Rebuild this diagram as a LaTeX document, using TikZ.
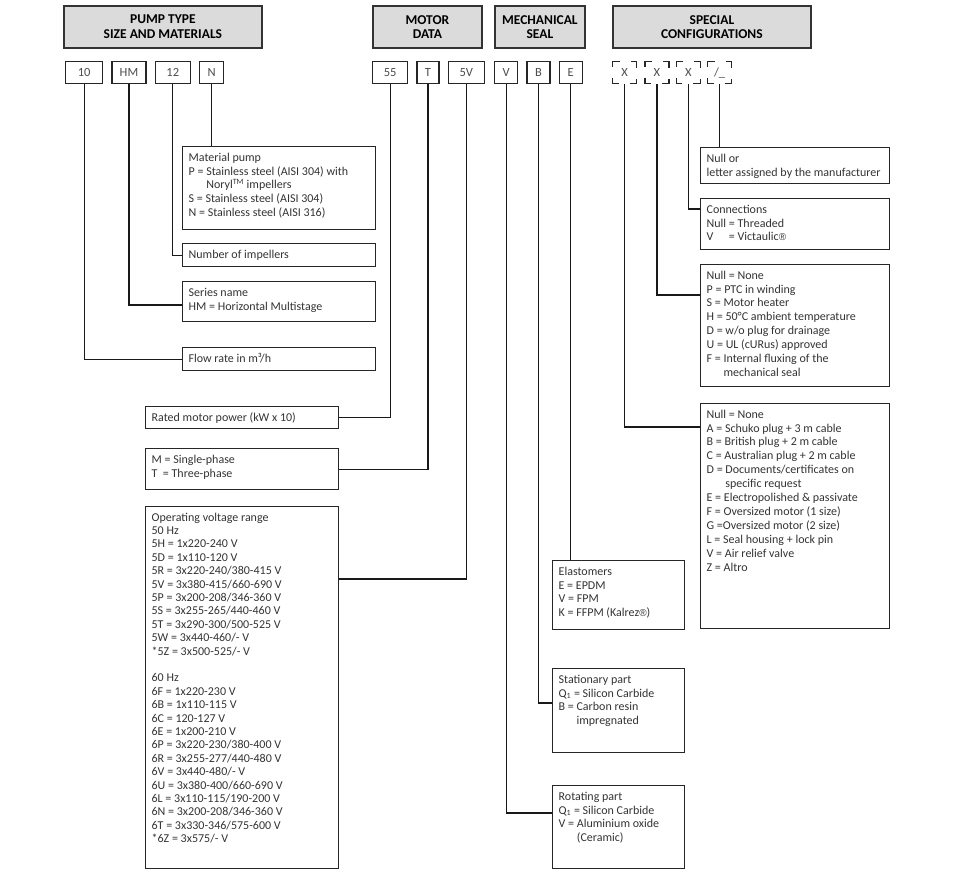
\documentclass[tikz,border=0pt]{standalone}
\usepackage{fontspec}
\setmainfont{Carlito}
\newfontfamily\regfont{Liberation Sans}
\usetikzlibrary{positioning}

\tikzstyle{title} = [rectangle, draw=black!80, line width=1.8pt, fill=black!14, font=\bfseries\fontsize{13.5}{14.5}\selectfont, align=center, anchor=north west, minimum height=42pt, inner sep=0pt]
\tikzstyle{code} = [rectangle, draw=black!85, line width=1.3pt, minimum height=22pt, inner sep=0pt, anchor=north west, text=black!70, font=\fontsize{12.5}{13}\selectfont]
\tikzstyle{free} = [code, minimum width=24pt, dash pattern=on 12pt off 11pt, dash phase=6pt]
\tikzstyle{info} = [rectangle, draw=black!85, line width=1.3pt, anchor=north west, inner xsep=6pt, inner ysep=0pt, text=black!80, font=\fontsize{12}{13.9}\selectfont]
\tikzstyle{link} = [draw=black!90, line width=1.3pt]

\newcommand{\infobox}[3]{\makebox[#1pt][l]{\parbox[t][#2pt][t]{300pt}{\raggedright\rule{0pt}{14.5pt}#3}}}
\newcommand{\regmark}{{\regfont\fontsize{10}{12}\selectfont ®}}

\begin{document}
\begin{tikzpicture}[x=1pt, y=-1pt]
\useasboundingbox (0,0) rectangle (960,872);

\node [title, minimum width=198pt] (hpump) at (63,5) {PUMP TYPE\\SIZE AND MATERIALS};
\node [title, minimum width=109pt] (hmotor) at (372,5) {MOTOR\\DATA};
\node [title, minimum width=90pt] (hseal) at (494,5) {MECHANICAL\\SEAL};
\node [title, minimum width=198pt] (hspec) at (612,5) {SPECIAL\\CONFIGURATIONS};

\node [code, minimum width=37pt] (c10) at (65,61) {10};
\node [code, minimum width=34pt] (cHM) [right=8pt of c10] {HM};
\node [code, minimum width=35pt] (c12) [right=8pt of cHM] {12};
\node [code, minimum width=24pt] (cN) [right=8pt of c12] {N};
\node [code, minimum width=35pt] (c55) at (372,61) {55};
\node [code, minimum width=22pt] (cT) [right=8pt of c55] {T};
\node [code, minimum width=36pt] (c5V) [right=8pt of cT] {5V};
\node [code, minimum width=23pt] (cV) at (494,61) {V};
\node [code, minimum width=23pt] (cB) [right=8pt of cV] {B};
\node [code, minimum width=23pt] (cE) [right=8pt of cB] {E};
\node [free] (cX1) at (612,61) {X};
\node [free] (cX2) [right=7pt of cX1] {X};
\node [free] (cX3) [right=6pt of cX2] {X};
\node [free] (cS) [right=6pt of cX3] {/\_};

\node [info] (mat) at (182,146) {\infobox{181}{83}{Material pump\\P = Stainless steel (AISI 304) with\\\phantom{P = }Noryl\textsuperscript{TM} impellers\\S = Stainless steel (AISI 304)\\N = Stainless steel (AISI 316)}};
\node [info] (imp) at (182,243) {\infobox{181}{23}{Number of impellers}};
\node [info] (ser) at (182,281) {\infobox{181}{40}{Series name\\HM = Horizontal Multistage}};
\node [info] (flow) at (182,347) {\infobox{181}{23}{Flow rate in m³/h}};

\node [info] (pow) at (145,406) {\infobox{181}{22}{Rated motor power (kW x 10)}};
\node [info] (phase) at (145,448) {\infobox{181}{41}{M = Single-phase\\T \ = Three-phase}};
\node [info, font=\fontsize{12}{13.4}\selectfont] (volt) at (145,506) {\infobox{181}{362}{Operating voltage range\\50 Hz\\5H = 1x220-240 V\\5D = 1x110-120 V\\5R = 3x220-240/380-415 V\\5V = 3x380-415/660-690 V\\5P = 3x200-208/346-360 V\\5S = 3x255-265/440-460 V\\5T = 3x290-300/500-525 V\\5W = 3x440-460/- V\\{*}5Z = 3x500-525/- V\\[13.4pt]60 Hz\\6F = 1x220-230 V\\6B = 1x110-115 V\\6C = 120-127 V\\6E = 1x200-210 V\\6P = 3x220-230/380-400 V\\6R = 3x255-277/440-480 V\\6V = 3x440-480/- V\\6U = 3x380-400/660-690 V\\6L = 3x110-115/190-200 V\\6N = 3x200-208/346-360 V\\6T = 3x330-346/575-600 V\\{*}6Z = 3x575/- V}};

\node [info] (elast) at (552,560) {\infobox{120}{69}{Elastomers\\E = EPDM\\V = FPM\\K = FFPM (Kalrez\regmark)}};
\node [info] (stat) at (552,668) {\infobox{120}{84}{Stationary part\\Q\textsubscript{1} = Silicon Carbide\\B = Carbon resin\\\phantom{B = }impregnated}};
\node [info] (rot) at (552,785) {\infobox{120}{83}{Rotating part\\Q\textsubscript{1} = Silicon Carbide\\V = Aluminium oxide\\\phantom{V = }(Ceramic)}};

\node [info] (nullor) at (700,147) {\infobox{177}{36}{Null or\\letter assigned by the manufacturer}};
\node [info] (conn) at (700,198) {\infobox{177}{51}{Connections\\Null = Threaded\\\leavevmode\rlap{V}\phantom{Null} = Victaulic\regmark}};
\node [info] (therm) at (700,264) {\infobox{177}{122}{Null = None\\P = PTC in winding\\S = Motor heater\\H = 50°C ambient temperature\\D = w/o plug for drainage\\U = UL (cURus) approved\\F = Internal fluxing of the\\\phantom{F = }mechanical seal}};
\node [info] (acc) at (700,403) {\infobox{177}{225}{Null = None\\A = Schuko plug + 3 m cable\\B = British plug + 2 m cable\\C = Australian plug + 2 m cable\\D = Documents/certificates on\\\phantom{D = }specific request\\E = Electropolished \& passivate\\F = Oversized motor (1 size)\\G =Oversized motor (2 size)\\L = Seal housing + lock pin\\V = Air relief valve\\Z = Altro}};

\draw [link] (c10.south) |- (flow.west);
\draw [link] (cHM.south) |- ([yshift=-24pt]ser.north west);
\draw [link] (c12.south) |- (imp.west);
\draw [link] (cN.south) -- (cN.south |- mat.north);
\draw [link] (c55.south) |- (pow.east);
\draw [link] (cT.south) |- (phase.east);
\draw [link] (c5V.south) |- ([yshift=-73pt]volt.north east);
\draw [link] (cV.south) |- ([yshift=-28pt]rot.north west);
\draw [link] (cB.south) |- ([yshift=-35pt]stat.north west);
\draw [link] (cE.south) -- (cE.south |- elast.north);
\draw [link] (cX1.south) |- ([yshift=-24pt]acc.north west);
\draw [link] (cX2.south) |- ([yshift=-31pt]therm.north west);
\draw [link] (cX3.south) |- ([yshift=-11pt]conn.north west);
\draw [link] (cS.south) -- (cS.south |- nullor.north);
\end{tikzpicture}
\end{document}
